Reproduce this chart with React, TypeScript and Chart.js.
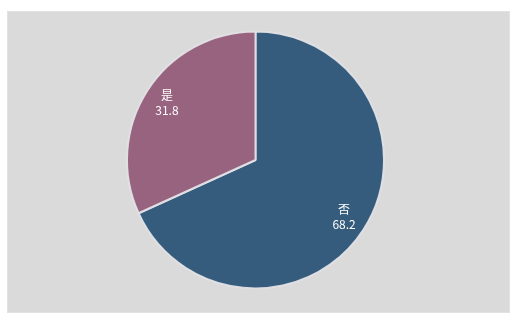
import React, { useEffect, useRef } from "react";
import { Chart, registerables } from "chart.js";

Chart.register(...registerables);

const categories = ["否", "是"];
const values = [68.2, 31.8];
const colors = ["#355c7d", "#98637f"];

const labelPlugin = {
  id: "insideLabels",
  afterDatasetsDraw(chart: any) {
    const ctx = chart.ctx;
    const meta = chart.getDatasetMeta(0);
    ctx.save();
    ctx.fillStyle = "#ffffff";
    ctx.textAlign = "center";
    ctx.textBaseline = "middle";
    ctx.font = '12px "Noto Sans CJK SC", "Microsoft YaHei", sans-serif';
    meta.data.forEach((arc: any, i: number) => {
      const { x, y, startAngle, endAngle, outerRadius } = arc.getProps(
        ["x", "y", "startAngle", "endAngle", "outerRadius"],
        true
      );
      const mid = (startAngle + endAngle) / 2;
      const r = outerRadius * 0.82;
      const cx = x + Math.cos(mid) * r;
      const cy = y + Math.sin(mid) * r;
      ctx.fillText(categories[i], cx, cy - 8);
      ctx.fillText(String(values[i]), cx, cy + 7);
    });
    ctx.restore();
  },
};

export default function App() {
  const ref = useRef<HTMLCanvasElement | null>(null);
  useEffect(() => {
    if (!ref.current) return;
    const chart = new Chart(ref.current, {
      type: "pie",
      data: {
        labels: categories,
        datasets: [
          {
            data: values,
            backgroundColor: colors,
            borderColor: "rgba(225,225,230,0.95)",
            borderWidth: 2,
          },
        ],
      },
      options: {
        animation: false,
        responsive: false,
        layout: { padding: { left: 118, right: 124, top: 18, bottom: 22 } },
        plugins: {
          legend: { display: false },
          tooltip: { enabled: false },
        },
      },
      plugins: [labelPlugin],
    });
    return () => chart.destroy();
  }, []);
  return (
    <div
      style={{
        position: "absolute",
        left: 7,
        top: 11,
        width: 503,
        height: 302,
        background: "#dadada",
        boxSizing: "border-box",
        border: "1px solid #e2e2e2",
      }}
    >
      <canvas ref={ref} width={501} height={300} style={{ display: "block" }} />
    </div>
  );
}
